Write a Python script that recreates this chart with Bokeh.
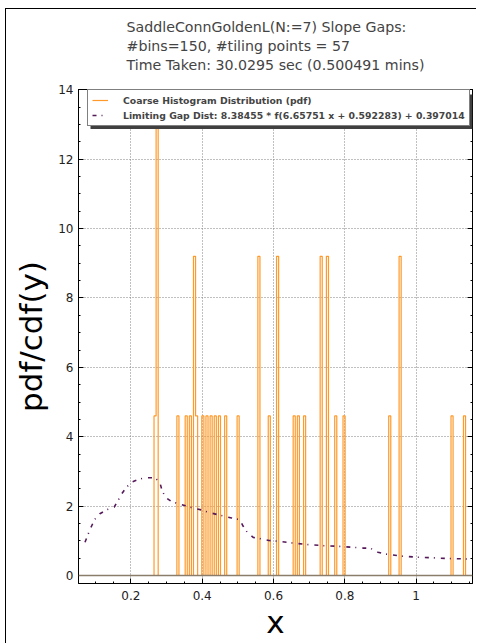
import numpy as np
from bokeh.plotting import figure
from bokeh.models import (Range1d, LinearAxis, FixedTicker, CustomJSTickFormatter,
                          Legend, LegendItem, Span, BoxAnnotation)
from bokeh.embed import file_html
from bokeh.resources import INLINE

# ---------------- data ----------------
title_text = ("SaddleConnGoldenL(N:=7) Slope Gaps:\n"
              "#bins=150, #tiling points = 57\n"
              "Time Taken: 30.0295 sec (0.500491 mins)")
legend_hist = "Coarse Histogram Distribution (pdf)"
legend_curve = "Limiting Gap Dist: 8.38455 * f(6.65751 x + 0.592283) + 0.397014"

n_bins = 150
hist_lo = 0.2649
hist_hi = 1.1385

# occupied histogram bins: approximate bin centre and pdf height
bar_x = [0.2668, 0.2760, 0.3315, 0.3555, 0.3664, 0.3771, 0.3860, 0.4019,
         0.4140, 0.4244, 0.4372, 0.4490, 0.4657, 0.5018, 0.5594, 0.5871,
         0.6118, 0.6587, 0.6705, 0.6881, 0.7329, 0.7524, 0.7748, 0.8000,
         0.9287, 0.9566, 1.1035, 1.1357]
bar_pdf = [4.6, 13.8, 4.6, 4.6, 4.6, 9.2, 4.6, 4.6,
           4.6, 4.6, 4.6, 4.6, 4.6, 4.6, 9.2, 4.6,
           9.2, 4.6, 4.6, 4.6, 9.2, 9.2, 4.6, 4.6,
           4.6, 9.2, 4.6, 4.6]

curve_x = [0.0713, 0.0805, 0.088, 0.099, 0.113, 0.133, 0.153, 0.164, 0.174,
           0.187, 0.204, 0.223, 0.245, 0.267, 0.281, 0.287, 0.296, 0.313,
           0.332, 0.354, 0.375, 0.398, 0.419, 0.441, 0.461, 0.4825, 0.505,
           0.515, 0.526, 0.543, 0.5636, 0.587, 0.610, 0.652, 0.697, 0.741,
           0.785, 0.829, 0.853, 0.871, 0.893, 0.913, 0.958, 1.002, 1.047,
           1.090, 1.135, 1.150]
curve_y = [0.96, 1.20, 1.39, 1.62, 1.78, 1.90, 1.97, 2.16, 2.35,
           2.54, 2.70, 2.78, 2.82, 2.82, 2.69, 2.47, 2.26, 2.14,
           2.07, 2.01, 1.94, 1.89, 1.82, 1.76, 1.71, 1.66, 1.61,
           1.42, 1.25, 1.10, 1.06, 1.01, 0.99, 0.94, 0.89, 0.86,
           0.84, 0.81, 0.79, 0.79, 0.67, 0.62, 0.56, 0.53, 0.51,
           0.49, 0.48, 0.47]

x_ticks = [0.2, 0.4, 0.6, 0.8, 1.0]
y_ticks = [0, 2, 4, 6, 8, 10, 12, 14]
x_minor = [round(0.05 * i, 2) for i in range(1, 24)]
y_minor = [0.5 * i for i in range(0, 29)]

# ---------------- histogram step outline ----------------
edges = np.linspace(hist_lo, hist_hi, n_bins + 1)
w = edges[1] - edges[0]
heights = np.zeros(n_bins)
for xc, h in zip(bar_x, bar_pdf):
    k = int(np.clip((xc - hist_lo) // w, 0, n_bins - 1))
    heights[k] = h
hx = [edges[0]]
hy = [0.0]
for i in range(n_bins):
    hx += [edges[i], edges[i + 1]]
    hy += [heights[i], heights[i]]
hx.append(edges[-1])
hy.append(0.0)

FONT = "DejaVu Sans"
X0, X1 = 0.0531, 1.158
Y0, Y1 = -0.23, 14.01

p = figure(width=476, height=643,
           x_range=Range1d(X0, X1), y_range=Range1d(Y0, Y1),
           output_backend="svg", toolbar_location=None,
           min_border_left=78, min_border_right=4, min_border_top=88,
           min_border_bottom=60,
           x_axis_label="x", y_axis_label="pdf/cdf(y)")
p.background_fill_color = "white"
p.border_fill_color = "white"
p.border_fill_alpha = 0.0
p.outline_line_color = "black"
p.outline_line_width = 1
# thin page frame seen at the left and top edges of the reference
p.styles = {
    "background": ("linear-gradient(#000, #000) 5px 8px / 1px 100% no-repeat, "
                   "linear-gradient(#000, #000) 5px 8px / 100% 1px no-repeat, "
                   "#ffffff"),
}

bottom_ax = p.below[0]
left_ax = p.left[0]

p.title.text = title_text
p.title.align = "center"
p.title.text_font = FONT
p.title.text_font_size = "14.2px"
p.title.text_font_style = "normal"
p.title.text_line_height = 1.2
p.title.standoff = 33

fmt = CustomJSTickFormatter(code="return String(Number(tick.toFixed(3)));")
blank = CustomJSTickFormatter(code="return '';")

xt = FixedTicker(ticks=x_ticks, minor_ticks=x_minor)
yt = FixedTicker(ticks=y_ticks, minor_ticks=y_minor)

bottom_ax.ticker = xt
bottom_ax.formatter = fmt
left_ax.ticker = yt
left_ax.formatter = fmt

top_ax = LinearAxis(ticker=xt, formatter=blank, major_label_standoff=0)
right_ax = LinearAxis(ticker=yt, formatter=blank, major_label_standoff=0)
p.add_layout(top_ax, "above")
p.add_layout(right_ax, "right")

for ax in [bottom_ax, left_ax, top_ax, right_ax]:
    ax.major_tick_in = 5
    ax.major_tick_out = 0
    ax.minor_tick_in = 2
    ax.minor_tick_out = 0
    ax.axis_line_color = "black"
    ax.major_tick_line_color = "black"
    ax.minor_tick_line_color = "black"
    ax.major_label_text_font = FONT
    ax.major_label_text_color = "#222222"
    ax.major_label_text_font_size = "12px"

for ax in [bottom_ax, left_ax]:
    ax.axis_label_text_font = FONT
    ax.axis_label_text_font_size = "31px"
    ax.axis_label_text_font_style = "normal"
    ax.axis_label_text_color = "black"
bottom_ax.major_label_standoff = 7
bottom_ax.axis_label_standoff = 1
left_ax.major_label_standoff = 5
left_ax.axis_label_standoff = 6

p.xgrid.ticker = xt
p.ygrid.ticker = yt
for g in [p.xgrid, p.ygrid]:
    g.grid_line_color = "#808080"
    g.grid_line_dash = "1 2"
    g.grid_line_width = 1

# zero line
p.add_layout(Span(location=0, dimension="width", line_color="#8a7d6a",
                  line_width=1.5))

r_hist = p.line(hx, hy, line_color="#ff9a2a", line_width=1.2)
r_curve = p.line(curve_x, curve_y, line_color="#55195a", line_width=1.6,
                 line_dash="4 5 1 6")

# legend shadow (decoration, offset behind the legend box)
px_x = (X1 - X0) / 394.0
px_y = (Y1 - Y0) / 494.5
shadow = BoxAnnotation(left=X0 + (9 + 3) * px_x,
                       right=X0 + (391 + 3) * px_x,
                       top=Y1 - (2 + 3) * px_y,
                       bottom=Y1 - (37 + 2.5) * px_y,
                       fill_color="#404040", fill_alpha=1.0,
                       line_color=None)
p.add_layout(shadow)

legend = Legend(items=[LegendItem(label=legend_hist, renderers=[r_hist]),
                       LegendItem(label=legend_curve, renderers=[r_curve])],
                location=(9, 457))
legend.label_text_font = FONT
legend.label_text_font_size = "9.3px"
legend.label_text_font_style = "bold"
legend.label_height = 12
legend.glyph_height = 12
legend.glyph_width = 16
legend.label_standoff = 15
legend.spacing = 3
legend.padding = 4
legend.margin = 0
legend.border_line_color = "black"
legend.border_line_width = 1
legend.background_fill_color = "white"
legend.background_fill_alpha = 1.0
p.add_layout(legend, "center")

open("out.html", "w").write(file_html(p, INLINE))
